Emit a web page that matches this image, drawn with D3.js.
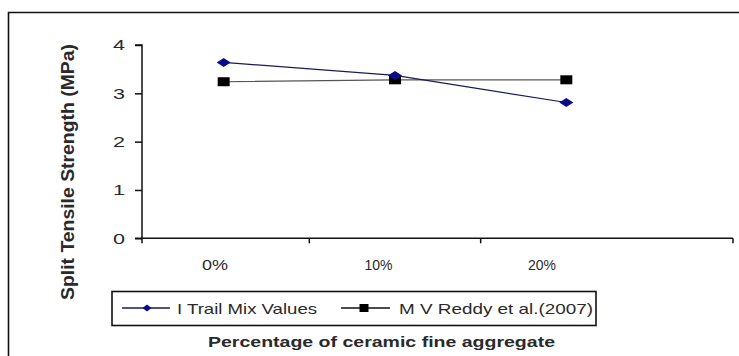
<!DOCTYPE html>
<html>
<head>
<meta charset="utf-8">
<script src="https://cdn.jsdelivr.net/npm/d3@7"></script>
<style>
  html, body { margin: 0; padding: 0; background: #fff; }
  svg { display: block; }
  text { font-family: "Liberation Sans", Arial, sans-serif; }
</style>
</head>
<body>
<svg id="chart" width="739" height="356"></svg>
<script>
// ---- data ----
const categories = ["0%", "10%", "20%"];
const trailMix = [3.64, 3.37, 2.81];
const reddy = [3.24, 3.28, 3.28];
const yTicks = [0, 1, 2, 3, 4];
const seriesNames = ["I Trail Mix Values", "M V Reddy et al.(2007)"];
const yTitle = "Split Tensile Strength (MPa)";
const xTitle = "Percentage of ceramic fine aggregate";

const svg = d3.select("#chart");

// outer frame (extends beyond right/bottom edge)
svg.append("path")
  .attr("d", "M8.5,360 L8.5,12.5 L745,12.5")
  .attr("fill", "none").attr("stroke", "#111").attr("stroke-width", 1.6);

// scales
const axisX = 142, axisEnd = 733;
const y = d3.scaleLinear().domain([0, 4]).range([238.3, 45]);
const x = d3.scaleBand().domain(categories).range([138, 652]).padding(0);
const cx = c => x(c) + x.bandwidth() / 2;
const labelX = d3.scalePoint().domain(categories).range([215, 542]);

// y axis
const yAxis = d3.axisLeft(y).tickValues(yTicks).tickSize(7).tickPadding(10)
  .tickFormat(d3.format("d"));
const gy = svg.append("g").attr("transform", `translate(${axisX},0)`).call(yAxis);
gy.select(".domain").attr("stroke", "#111").attr("stroke-width", 1.5)
  .attr("d", `M-7,${y(4)}H0V${y(0)}H-7`);
gy.selectAll(".tick line").attr("stroke", "#111").attr("stroke-width", 1.5);
gy.selectAll(".tick text").attr("font-size", 15).attr("fill", "#2a2a2a")
  .attr("textLength", 12).attr("lengthAdjust", "spacingAndGlyphs")
  .style("font-family", "'Liberation Sans', Arial, sans-serif");

// x axis
const gx = svg.append("g").attr("transform", `translate(0,${y(0)})`);
gx.append("line").attr("x1", axisX).attr("x2", axisEnd).attr("y1", 0).attr("y2", 0)
  .attr("stroke", "#111").attr("stroke-width", 1.5);
const tickPos = [axisX].concat(categories.slice(1).map(c => x(c))).concat([axisEnd]);
gx.selectAll("line.tk").data(tickPos).join("line").attr("class", "tk")
  .attr("x1", d => d).attr("x2", d => d).attr("y1", 0).attr("y2", 5)
  .attr("stroke", "#111").attr("stroke-width", 1.5);
gx.selectAll("text").data(categories).join("text")
  .attr("x", d => labelX(d)).attr("y", 32)
  .attr("text-anchor", "middle").attr("font-size", 15).attr("fill", "#2a2a2a")
  .attr("textLength", d => d.length === 2 ? 26 : 28).attr("lengthAdjust", "spacingAndGlyphs")
  .text(d => d);

// y title
svg.append("text")
  .attr("transform", "translate(74,172) rotate(-90)")
  .attr("text-anchor", "middle").attr("font-size", 19).attr("font-weight", "bold")
  .attr("fill", "#2a2a2a")
  .attr("textLength", 256).attr("lengthAdjust", "spacingAndGlyphs")
  .text(yTitle);

// lines
const line = d3.line().x((d, i) => cx(categories[i])).y(d => y(d));
svg.append("path").datum(reddy).attr("d", line)
  .attr("fill", "none").attr("stroke", "#555").attr("stroke-width", 1.2);
svg.append("path").datum(trailMix).attr("d", line)
  .attr("fill", "none").attr("stroke", "#1a1a5a").attr("stroke-width", 1.2);

// markers
const diamond = (w, h) => `M0,${-h/2}L${w/2},0L0,${h/2}L${-w/2},0Z`;
svg.selectAll("path.sq").data(reddy).join("path").attr("class", "sq")
  .attr("transform", (d, i) => `translate(${cx(categories[i])},${y(d)})`)
  .attr("d", "M-6,-4.5H6V4.5H-6Z").attr("fill", "#000");
svg.selectAll("path.dm").data(trailMix).join("path").attr("class", "dm")
  .attr("transform", (d, i) => `translate(${cx(categories[i])},${y(d)})`)
  .attr("d", diamond(14, 9)).attr("fill", "#0a0a8a");

// legend
const lg = svg.append("g");
lg.append("rect").attr("x", 112).attr("y", 291.5).attr("width", 484).attr("height", 34)
  .attr("fill", "#fff").attr("stroke", "#111").attr("stroke-width", 1.6);
lg.append("line").attr("x1", 122).attr("x2", 170).attr("y1", 308).attr("y2", 308)
  .attr("stroke", "#1a1a5a").attr("stroke-width", 1.3);
lg.append("path").attr("transform", "translate(147,308)").attr("d", diamond(9, 7))
  .attr("fill", "#0a0a8a");
lg.append("text").attr("x", 177).attr("y", 314).attr("font-size", 15).attr("fill", "#2a2a2a")
  .attr("textLength", 140).attr("lengthAdjust", "spacingAndGlyphs").text(seriesNames[0]);
lg.append("line").attr("x1", 341).attr("x2", 390).attr("y1", 308).attr("y2", 308)
  .attr("stroke", "#111").attr("stroke-width", 1.3);
lg.append("path").attr("transform", "translate(364,308)").attr("d", "M-4.5,-4H4.5V4H-4.5Z")
  .attr("fill", "#000");
lg.append("text").attr("x", 399).attr("y", 314).attr("font-size", 15).attr("fill", "#2a2a2a")
  .attr("textLength", 194).attr("lengthAdjust", "spacingAndGlyphs").text(seriesNames[1]);

// x title
svg.append("text").attr("x", 208).attr("y", 347).attr("font-size", 15)
  .attr("font-weight", "bold").attr("fill", "#2a2a2a")
  .attr("textLength", 347).attr("lengthAdjust", "spacingAndGlyphs").text(xTitle);
</script>
</body>
</html>
